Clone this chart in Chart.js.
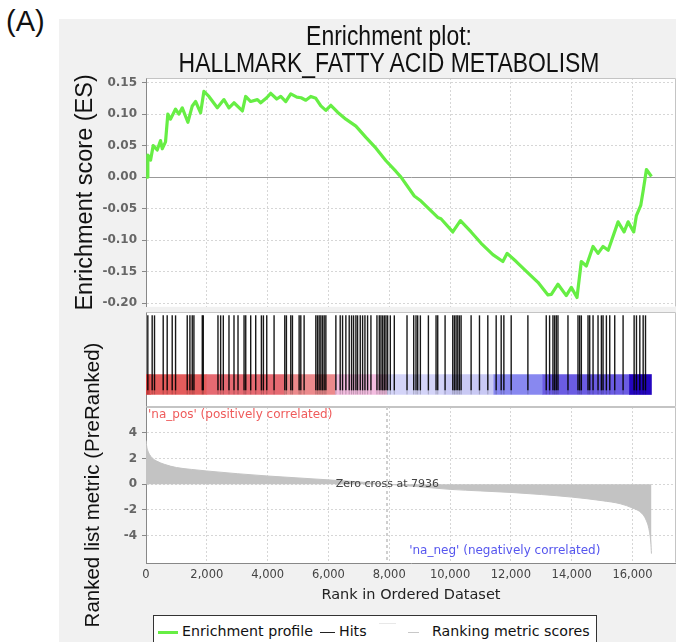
<!DOCTYPE html>
<html>
<head>
<meta charset="utf-8">
<title>Enrichment plot: HALLMARK_FATTY ACID METABOLISM</title>
<script src="https://cdn.jsdelivr.net/npm/chart.js@4.4.1/dist/chart.umd.min.js"></script>
<style>
    html, body { margin: 0; padding: 0; background: #fff; width: 676px; height: 642px; overflow: hidden; position: relative; }
    #panel { position: absolute; left: 59px; top: 19px; width: 617px; height: 623px; background: #f1f1f1; }
    #tag { position: absolute; left: 6px; top: 5px; font: 29px/33px 'Liberation Sans', Arial, sans-serif; color: #111; }
    #title { position: absolute; left: 89px; top: 23px; width: 600px; text-align: center; color: #111; z-index: 2;
             font: 27px/27px 'Liberation Sans', Arial, sans-serif; transform: scaleX(0.85); transform-origin: 50% 0; }
    canvas { position: absolute; }
    #legend { position: absolute; left: 153px; top: 615px; width: 442px; height: 40px; border: 1px solid #333; background: #fff;
              font: 14.2px 'DejaVu Sans', sans-serif; color: #111; }
    #legend span { position: absolute; top: 7px; white-space: nowrap; }
    #legend i { position: absolute; display: block; }
</style>
</head>
<body>
<div id="panel"></div>
<div id="tag">(A)</div>
<div id="title">Enrichment plot:<br>HALLMARK_FATTY ACID METABOLISM</div>
<canvas id="esChart" width="616" height="259" style="left:60px;top:60px"></canvas>
<canvas id="hitsChart" width="616" height="111" style="left:60px;top:304px"></canvas>
<canvas id="rankChart" width="616" height="312" style="left:60px;top:330px"></canvas>
<div id="legend">
    <i style="left:4px;top:15px;width:20px;height:3px;background:#66ee44"></i>
    <span style="left:28px">Enrichment profile</span>
    <i style="left:166px;top:16px;width:15px;height:1px;background:#222"></i>
    <span style="left:185px">Hits</span>
    <i style="left:225px;top:7px;width:17px;height:1px;background:#e8e8e8"></i>
    <i style="left:254px;top:16px;width:11px;height:1px;background:#c8c8c8"></i>
    <span style="left:278px">Ranking metric scores</span>
</div>
<script>
// tick labels
const xTicks = [0, 2000, 4000, 6000, 8000, 10000, 12000, 14000, 16000];
const esTicks = [-0.20, -0.15, -0.10, -0.05, 0.00, 0.05, 0.10, 0.15];
const metricTicks = [-4, -2, 0, 2, 4];

// running enrichment score
const esRanks = [
    0, 40, 60, 150, 237, 369, 478, 534, 642, 718,
    807, 972, 1081, 1193, 1377, 1522, 1631, 1796, 1904, 2069,
    2346, 2563, 2728, 2893, 3170, 3278, 3443, 3664, 3773, 3970,
    4102, 4300, 4432, 4596, 4761, 4959, 5100, 5255, 5420, 5585,
    5750, 5914, 6079, 6300, 6573, 6903, 7232, 7562, 7891, 8221,
    8386, 8824, 9045, 9595, 9700, 10089, 10340, 10692, 11021, 11407,
    11736, 11878, 12175, 12560, 12890, 13219, 13330, 13549, 13822, 13987,
    14174, 14316, 14481, 14701, 14866, 15031, 15200, 15525, 15723, 15855,
    16040, 16128, 16270, 16349, 16458, 16623
];
const esValues = [
    0, 0, 0.035, 0.027, 0.050, 0.043, 0.058, 0.045, 0.056, 0.100,
    0.092, 0.108, 0.100, 0.110, 0.087, 0.113, 0.120, 0.102, 0.136, 0.128,
    0.110, 0.123, 0.110, 0.118, 0.105, 0.128, 0.120, 0.123, 0.118, 0.126,
    0.133, 0.124, 0.128, 0.120, 0.132, 0.127, 0.126, 0.122, 0.128, 0.125,
    0.113, 0.106, 0.114, 0.103, 0.092, 0.081, 0.063, 0.046, 0.026, 0.009,
    0, -0.030, -0.038, -0.064, -0.066, -0.087, -0.069, -0.087, -0.105, -0.123,
    -0.134, -0.121, -0.134, -0.152, -0.167, -0.187, -0.186, -0.170, -0.188, -0.175,
    -0.191, -0.134, -0.141, -0.110, -0.121, -0.110, -0.116, -0.071, -0.087, -0.071,
    -0.087, -0.061, -0.045, -0.022, 0.012, 0.001
];

// positions of gene set members in the ranked list
const hitRanks = [
    60, 203, 280, 566, 697, 862, 972, 1356, 1444, 1521, 1576, 1851, 1884,
    2367, 2455, 2543, 2729, 2894, 3026, 3225, 3280, 3443, 3608, 3795, 3861, 3971,
    4212, 4564, 4618, 4761, 4816, 5036, 5091, 5200, 5585, 5640, 5695, 5750, 5805,
    5860, 5915, 6244, 6387, 6464, 6573, 6683, 6760, 6826, 6903, 6958, 7046, 7123,
    7200, 7287, 7397, 7595, 7672, 7727, 7782, 7837, 7892, 7947, 8035, 8166, 8584,
    8804, 8880, 8935, 9023, 9287, 9539, 9594, 9836, 10088, 10143, 10198, 10253,
    10308, 10363, 10692, 10967, 11241, 11516, 11681, 11769, 12010, 12559, 13163,
    13273, 13383, 13438, 13493, 13548, 13877, 14207, 14262, 14317, 14537, 14592,
    14702, 14866, 14976, 15031, 15141, 15251, 15415, 15690, 16053, 16130, 16240,
    16350, 16427
];

// ranked list metric
const metricRanks = [0, 20, 60, 120, 200, 350, 600, 1000, 1500, 2000, 3000, 4000, 5000, 6000, 7000,
    7936, 9000, 10000, 11000, 12000, 13000, 14000, 15000, 15600, 16000, 16300, 16450, 16550, 16600, 16623];
const metricValues = [3.4, 3.0, 2.6, 2.3, 2.05, 1.8, 1.55, 1.3, 1.15, 1.03, 0.82, 0.64, 0.49, 0.34, 0.18,
    0, -0.2, -0.4, -0.52, -0.64, -0.8, -1.0, -1.28, -1.52, -1.85, -2.25, -2.8, -3.6, -4.5, -5.4];
const zeroCross = 7936;

// colour bar bands along the ranked list
const bandEdges = [0, 150, 2000, 4550, 6230, 7936, 9800, 11440, 13050, 15900, 16623];
const bandColors = ['#d64545', '#e45c5c', '#e66a72', '#ec8a8c', '#f3bde0',
    '#d4d4f8', '#c9c9f4', '#8888f0', '#6b5ce3', '#2406c0'];

const xMax = 17430;
const titleFont = "'Liberation Sans', Arial, sans-serif";
Chart.defaults.font.family = "'DejaVu Sans', sans-serif";
Chart.defaults.animation = false;
Chart.defaults.events = [];

function fixedTicks(values) {
    return scale => { scale.ticks = values.map(v => ({ value: v })); };
}

const gridColor = c => (c.tick && c.tick.value === 0 && c.scale.axis === 'y') ? '#999' : '#d6d6d6';
const gridDash = c => (c.tick && c.tick.value === 0 && c.scale.axis === 'y') ? [] : [2, 2];

// white plot background plus the thin frame
const plotFrame = {
    id: 'plotFrame',
    beforeDraw(chart) {
        const { ctx, chartArea: a } = chart;
        ctx.save();
        ctx.fillStyle = '#fff';
        ctx.fillRect(a.left, a.top, a.width, a.height);
        ctx.restore();
    },
    beforeDatasetsDraw(chart, args, opts) {
        const { ctx, chartArea: a } = chart;
        const l = Math.round(a.left) + 0.5, r = Math.round(a.right) - 0.5;
        const t = Math.round(a.top) + 0.5, b = Math.round(a.bottom) - 0.5;
        ctx.save();
        ctx.lineWidth = 1;
        ctx.strokeStyle = '#c4c4c4';
        ctx.beginPath();
        ctx.moveTo(l, t); ctx.lineTo(r, t); ctx.lineTo(r, b);
        if (opts.closed) { ctx.lineTo(l, b); }
        ctx.stroke();
        if (opts.closed) {
            ctx.strokeStyle = '#888';
            ctx.beginPath(); ctx.moveTo(l, t); ctx.lineTo(l, b); ctx.stroke();
        }
        ctx.restore();
    }
};

// enrichment score plot
new Chart(document.getElementById('esChart'), {
    type: 'line',
    data: {
        datasets: [{
            label: 'Enrichment profile',
            data: esRanks.map((r, i) => ({ x: r, y: esValues[i] })),
            borderColor: '#66ee44',
            borderWidth: 3.2,
            borderJoinStyle: 'round',
            pointRadius: 0,
            tension: 0
        }]
    },
    options: {
        responsive: false,
        layout: { autoPadding: false, padding: { top: 18, bottom: 8, left: 0, right: 0 } },
        plugins: { legend: { display: false }, tooltip: { enabled: false }, plotFrame: { closed: false } },
        scales: {
            x: {
                type: 'linear', min: 0, max: xMax,
                afterBuildTicks: fixedTicks(xTicks),
                afterFit: s => { s.height = 0; },
                ticks: { display: false },
                grid: { color: '#d6d6d6', drawTicks: false },
                border: { display: false, dash: [2, 2] }
            },
            y: {
                min: -0.2058, max: 0.1573,
                afterBuildTicks: fixedTicks(esTicks),
                afterFit: s => { s.width = 86; },
                ticks: { padding: 5, color: '#666', font: { size: 12, weight: 'bold' }, callback: v => v.toFixed(2) },
                grid: { color: gridColor, drawTicks: true, tickLength: 4, tickColor: '#888' },
                border: { color: '#888', dash: gridDash },
                title: {
                    display: true, text: 'Enrichment score (ES)', color: '#111',
                    font: { family: titleFont, size: 23.5, weight: 'normal' },
                    padding: { top: 11, bottom: 0 }
                }
            }
        }
    },
    plugins: [plotFrame]
});

// hits and colour bar
const hitsMid = 0.605;
const barMid = 0.105;
new Chart(document.getElementById('hitsChart'), {
    type: 'scatter',
    data: {
        datasets: [{
            label: 'Hits',
            data: hitRanks.map(r => ({ x: r, y: hitsMid })),
            pointStyle: 'line',
            pointRotation: 90,
            pointRadius: 37.5,
            pointBorderWidth: 1.4,
            pointBorderColor: 'rgba(0,0,0,0.9)',
            order: 0
        }, {
            label: 'Hits on bar',
            data: hitRanks.map(r => ({ x: r, y: barMid })),
            pointStyle: 'line',
            pointRotation: 90,
            pointRadius: 10,
            pointBorderWidth: 1.2,
            pointBorderColor: 'rgba(0,0,0,0.2)',
            order: 0
        }, {
            type: 'bar',
            label: 'Ranked list colour bar',
            indexAxis: 'y',
            data: bandColors.map((c, i) => ({ x: [bandEdges[i], bandEdges[i + 1]], y: barMid })),
            backgroundColor: bandColors,
            borderWidth: 0,
            barThickness: 20,
            order: 1
        }]
    },
    options: {
        responsive: false,
        layout: { autoPadding: false, padding: { top: 8, bottom: 8, left: 86, right: 0 } },
        plugins: { legend: { display: false }, tooltip: { enabled: false }, plotFrame: { closed: true } },
        scales: {
            x: { type: 'linear', min: 0, max: xMax, display: false },
            y: { type: 'linear', min: 0, max: 1, display: false }
        }
    },
    plugins: [plotFrame]
});

// zero-cross marker and side labels on the ranked list plot
const rankNotes = {
    id: 'rankNotes',
    beforeDatasetsDraw(chart) {
        const { ctx, chartArea: a, scales: { x } } = chart;
        const zx = Math.round(x.getPixelForValue(zeroCross));
        ctx.save();
        ctx.strokeStyle = '#cfcfcf';
        ctx.lineWidth = 2;
        ctx.setLineDash([3, 3]);
        ctx.beginPath(); ctx.moveTo(zx, a.top); ctx.lineTo(zx, a.bottom); ctx.stroke();
        ctx.restore();
    },
    afterDatasetsDraw(chart) {
        const { ctx, chartArea: a, scales: { x, y } } = chart;
        ctx.save();
        ctx.textBaseline = 'middle';
        ctx.font = "12px 'DejaVu Sans'";
        ctx.fillStyle = '#ef5b5b';
        ctx.textAlign = 'left';
        ctx.fillText("'na_pos' (positively correlated)", a.left + 2, a.top + 8);
        ctx.fillStyle = '#5656ee';
        ctx.textAlign = 'center';
        ctx.fillText("'na_neg' (negatively correlated)", x.getPixelForValue(11800), a.bottom - 12);
        ctx.font = "11px 'DejaVu Sans'";
        ctx.fillStyle = '#444';
        ctx.fillText('Zero cross at ' + zeroCross, x.getPixelForValue(zeroCross), y.getPixelForValue(0));
        ctx.restore();
    }
};

// ranked list metric plot
new Chart(document.getElementById('rankChart'), {
    type: 'line',
    data: {
        datasets: [{
            label: 'Ranking metric scores',
            data: metricRanks.map((r, i) => ({ x: r, y: metricValues[i] })),
            fill: 'origin',
            backgroundColor: '#c3c3c3',
            borderColor: '#c3c3c3',
            borderWidth: 1,
            pointRadius: 0,
            cubicInterpolationMode: 'monotone'
        }]
    },
    options: {
        responsive: false,
        layout: { autoPadding: false, padding: { top: 77, bottom: 38, left: 0, right: 0 } },
        plugins: { legend: { display: false }, tooltip: { enabled: false }, plotFrame: { closed: false } },
        scales: {
            x: {
                type: 'linear', min: 0, max: xMax,
                afterBuildTicks: fixedTicks(xTicks),
                afterFit: s => { s.height = 41; },
                ticks: { padding: 5, color: '#444', font: { size: 11.5 }, callback: v => v.toLocaleString('en-US') },
                grid: { color: '#d6d6d6', drawTicks: false },
                border: { color: '#888', dash: [2, 2] },
                title: {
                    display: true, text: 'Rank in Ordered Dataset', color: '#222',
                    font: { size: 14.5 }, padding: { top: 0, bottom: 0 }
                }
            },
            y: {
                min: -6.13, max: 6.01,
                afterBuildTicks: fixedTicks(metricTicks),
                afterFit: s => { s.width = 86; },
                ticks: { padding: 5, color: '#666', font: { size: 12, weight: 'bold' }, callback: v => String(v) },
                grid: { color: '#d6d6d6', drawTicks: true, tickLength: 4, tickColor: '#888' },
                border: { color: '#888', dash: [2, 2] },
                title: {
                    display: true, text: 'Ranked list metric (PreRanked)', color: '#111',
                    font: { family: titleFont, size: 20.5, weight: 'normal' },
                    padding: { top: 21, bottom: 0 }
                }
            }
        }
    },
    plugins: [plotFrame, rankNotes]
});
</script>
</body>
</html>
